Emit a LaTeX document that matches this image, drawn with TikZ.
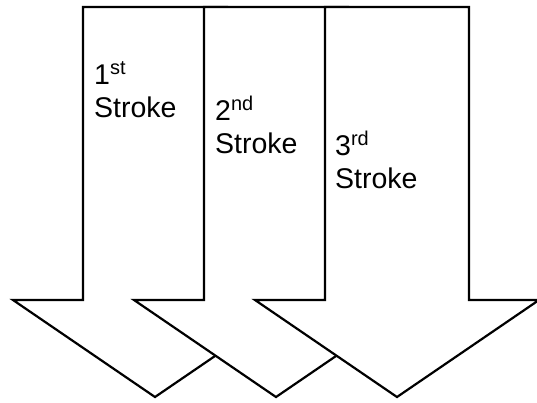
\documentclass[tikz,border=0pt]{standalone}
\usepackage{fontspec}
\setmainfont{Liberation Sans}
\begin{document}
\begin{tikzpicture}[x=1pt,y=-1pt,
  arrowshape/.style={draw=black,fill=white,line width=2.2pt,line join=miter},
  label/.style={anchor=base west,align=left,inner sep=0pt,font=\fontsize{28.5}{33}\selectfont}]
\useasboundingbox (0,0) rectangle (537,402);
\foreach \c in {155,276,397}{
  \draw[arrowshape] (\c-72,7) -- (\c+72,7) -- (\c+72,300) -- (\c+142,300) -- (\c,397) -- (\c-142,300) -- (\c-72,300) -- cycle;
}
\node[label] (s1) at (94,117) {1\textsuperscript{st}\\Stroke};
\node[label] (s2) at (215,153) {2\textsuperscript{nd}\\Stroke};
\node[label] (s3) at (335,188) {3\textsuperscript{rd}\\Stroke};
\end{tikzpicture}
\end{document}
